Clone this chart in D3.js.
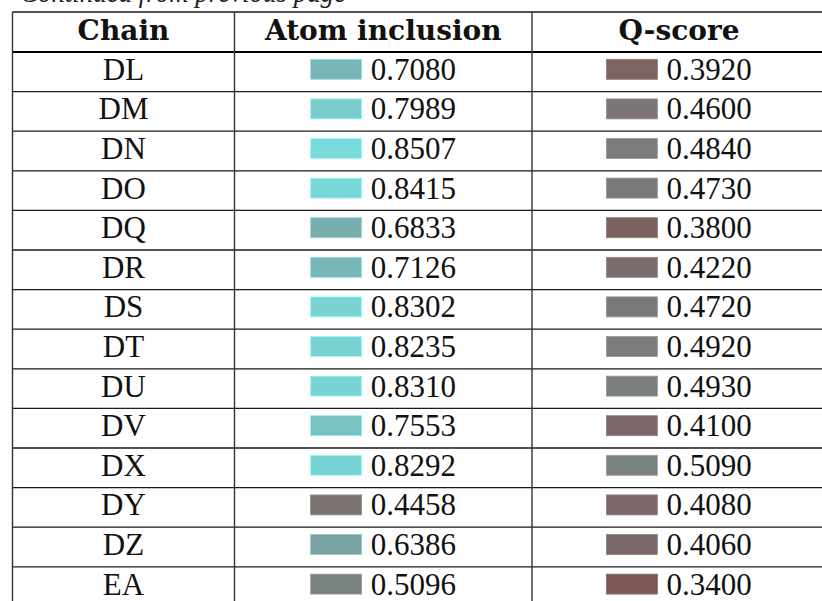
<!DOCTYPE html>
<html>
<head>
<meta charset="utf-8">
<script src="https://cdn.jsdelivr.net/npm/d3@7"></script>
<style>
  body { margin: 0; background: #fff; }
  svg { display: block; }
  .hdr { font-family: "DejaVu Serif", serif; font-weight: bold; font-size: 28px; fill: #111; }
  .cell { font-family: "Liberation Serif", "Times New Roman", serif; font-size: 31px; fill: #111; }
  .cap { font-family: "Liberation Serif", serif; font-style: italic; font-size: 30px; fill: #222; }
</style>
</head>
<body>
<div id="chart"></div>
<script>
var chains = ["DL", "DM", "DN", "DO", "DQ", "DR", "DS", "DT", "DU", "DV", "DX", "DY", "DZ", "EA"];
var atomInclusion = [0.7080, 0.7989, 0.8507, 0.8415, 0.6833, 0.7126, 0.8302, 0.8235, 0.8310, 0.7553, 0.8292, 0.4458, 0.6386, 0.5096];
var qScore = [0.3920, 0.4600, 0.4840, 0.4730, 0.3800, 0.4220, 0.4720, 0.4920, 0.4930, 0.4100, 0.5090, 0.4080, 0.4060, 0.3400];
var headers = ["Chain", "Atom inclusion", "Q-score"];
var caption = "Continued from previous page";

var W = 822, H = 601;
var top0 = 12, headBottom = 52, rowH = 39.6;
var colEdges = [12.5, 234.5, 532, 826];

var svg = d3.select("#chart").append("svg")
    .attr("width", W)
    .attr("height", H);

var y = d3.scaleBand()
    .domain(chains)
    .range([headBottom, headBottom + rowH * chains.length]);

// value -> swatch colour (red-ish grey at low, cyan at high)
var color = d3.scaleLinear()
    .domain([0, 1])
    .range(["rgb(123,0,0)", "rgb(122,255,255)"]);

var fmt = d3.format(".4f");

// caption, cut by the top of the page
svg.append("text")
    .attr("class", "cap")
    .attr("x", 20)
    .attr("y", 2)
    .attr("textLength", 326)
    .attr("lengthAdjust", "spacingAndGlyphs")
    .text(caption);

// header
svg.selectAll(".hdr")
    .data(headers)
  .enter().append("text")
    .attr("class", "hdr")
    .attr("text-anchor", "middle")
    .attr("x", function(d, i) { return (colEdges[i] + colEdges[i + 1]) / 2; })
    .attr("y", 39.5)
    .text(function(d) { return d; });

// chain names
svg.selectAll(".chain")
    .data(chains)
  .enter().append("text")
    .attr("class", "cell chain")
    .attr("text-anchor", "middle")
    .attr("x", (colEdges[0] + colEdges[1]) / 2)
    .attr("y", function(d) { return y(d) + 27.8; })
    .text(function(d) { return d; });

// value columns: swatch + number, centred as a block
var swW = 51, swH = 20, gap = 9;
[atomInclusion, qScore].forEach(function(vals, c) {
  var cx = (colEdges[c + 1] + colEdges[c + 2]) / 2;
  var g = svg.append("g");
  var rows = g.selectAll(".v")
      .data(vals)
    .enter().append("g")
      .attr("class", "v");
  var txt = rows.append("text")
      .attr("class", "cell")
      .attr("y", function(d, i) { return y(chains[i]) + 27.8; })
      .text(function(d) { return fmt(d); });
  txt.each(function(d, i) {
    var tw = this.getComputedTextLength();
    var x0 = cx - (swW + gap + tw) / 2;
    d3.select(this).attr("x", x0 + swW + gap);
    d3.select(this.parentNode).insert("rect", "text")
        .attr("x", x0)
        .attr("y", y(chains[i]) + 7.3)
        .attr("width", swW)
        .attr("height", swH)
        .attr("fill", color(d))
        .attr("stroke", d3.color(color(d)).brighter(0.6))
        .attr("stroke-width", 0.8);
  });
});

// rules
var lines = svg.append("g").attr("stroke", "#1a1a1a");
lines.append("line")
    .attr("x1", colEdges[0]).attr("x2", W)
    .attr("y1", top0).attr("y2", top0)
    .attr("stroke-width", 1.4);
lines.append("line")
    .attr("x1", colEdges[0]).attr("x2", W)
    .attr("y1", headBottom).attr("y2", headBottom)
    .attr("stroke-width", 2.2)
    .attr("stroke", "#000");
lines.selectAll(".hl")
    .data(chains.slice(1))
  .enter().append("line")
    .attr("class", "hl")
    .attr("x1", colEdges[0]).attr("x2", W)
    .attr("y1", function(d) { return y(d); })
    .attr("y2", function(d) { return y(d); })
    .attr("stroke-width", 1.3);
lines.selectAll(".vl")
    .data(colEdges.slice(0, 3))
  .enter().append("line")
    .attr("class", "vl")
    .attr("x1", function(d) { return d; })
    .attr("x2", function(d) { return d; })
    .attr("y1", top0).attr("y2", H)
    .attr("stroke-width", 1.4)
    .attr("stroke", "#333");
</script>
</body>
</html>
